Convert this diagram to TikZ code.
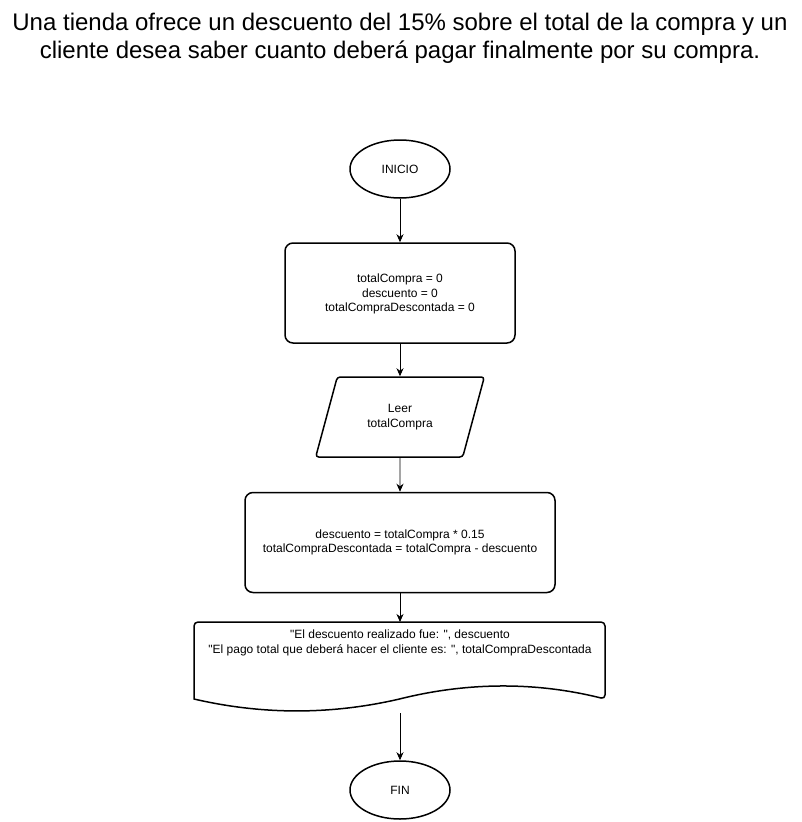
\documentclass[tikz,border=0pt]{standalone}
\usepackage{fontspec}
\setmainfont{Liberation Sans}[Ligatures=TeXOff]
\usetikzlibrary{shapes.geometric, arrows.meta}

\begin{document}
\begin{tikzpicture}[x=1pt, y=-1pt,
        every node/.style={font=\fontsize{12}{14.5}\selectfont, align=center, inner sep=0pt},
        terminal/.style={draw, line width=1.5pt, ellipse, minimum width=100pt, minimum height=58pt},
        process/.style={draw, line width=1.5pt, rectangle, rounded corners=8pt, minimum height=100pt},
        io/.style={draw, line width=1.5pt, trapezium, trapezium left angle=66, trapezium right angle=114,
            trapezium stretches=true, rounded corners=3pt, minimum width=170pt, minimum height=80pt},
        flow/.style={-{Stealth[length=8pt, width=7pt, inset=2.5pt]}, line width=0.9pt}]
        \useasboundingbox (0,0) rectangle (802,822);

        \node[font=\fontsize{24}{28}\selectfont] (title) at (400,38)
            {Una tienda ofrece un descuento del 15\% sobre el total de la compra y un\\
             cliente desea saber cuanto deberá pagar finalmente por su compra.};

        \node[terminal] (inicio) at (400,169) {INICIO};
        \node[process, minimum width=230pt, text depth=0pt] (init) at (400,293)
            {totalCompra = 0\\descuento = 0\\totalCompraDescontada = 0};
        \node[io] (leer) at (400,417) {Leer\\totalCompra};
        \node[process, minimum width=310pt] (calc) at (400,542.5)
            {descuento = totalCompra * 0.15\\totalCompraDescontada = totalCompra - descuento};

        % documento de salida
        \node[minimum width=411pt, minimum height=91pt, anchor=north] (doc) at (400,622) {};
        \draw[line width=1.5pt] (194,699) [rounded corners=4pt] -- (194,622) -- (605,622) -- (605,699)
            [sharp corners] .. controls (536.5,681.8) and (468,681.8) .. (399.5,699)
            .. controls (331,714.9) and (262.5,714.9) .. (194,699) -- cycle;
        \node (salida) at ([yshift=-21pt]doc.north)
            {"El descuento realizado fue: ", descuento\\"El pago total que deberá hacer el cliente es: ", totalCompraDescontada};

        \node[terminal] (fin) at (400,790) {FIN};

        \draw[flow] (inicio) -- (init);
        \draw[flow] (init) -- (leer);
        \draw[flow] (leer) -- (calc);
        \draw[flow] (calc) -- (doc);
        \draw[flow] (doc) -- (fin);
    \end{tikzpicture}
\end{document}
